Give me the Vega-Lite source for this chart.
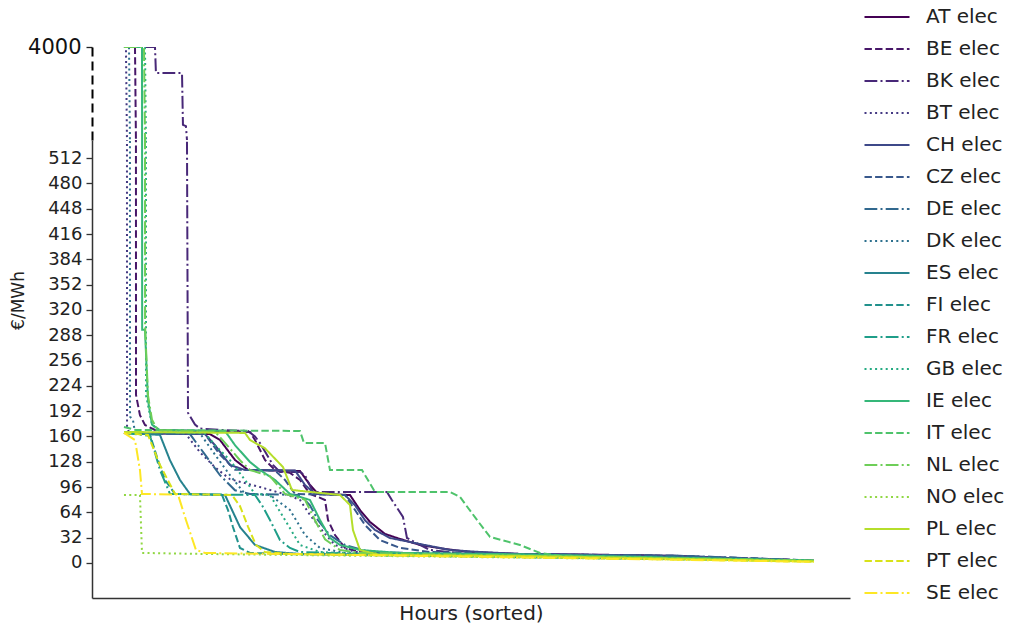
{
  "$schema": "https://vega.github.io/schema/vega-lite/v6.json",
  "padding": {"left": 9, "top": 7, "right": 5, "bottom": 5},
  "config": {
    "view": {"stroke": null},
    "font": "DejaVu Sans",
    "axis": {"labelFont": "DejaVu Sans", "titleFont": "DejaVu Sans", "grid": false},
    "legend": {"labelFont": "DejaVu Sans"}
  },
  "spacing": 0,
  "datasets": {
    "d": [
      {"series":"AT elec","hour":0,"price":164.5},{"series":"AT elec","hour":1092,"price":163},{"series":"AT elec","hour":1219,"price":155.6},{"series":"AT elec","hour":1410,"price":130.3},{"series":"AT elec","hour":1575,"price":117.6},{"series":"AT elec","hour":2235,"price":116.4},{"series":"AT elec","hour":2362,"price":98.7},{"series":"AT elec","hour":2464,"price":87.3},{"series":"AT elec","hour":2870,"price":86},{"series":"AT elec","hour":2997,"price":67},{"series":"AT elec","hour":3124,"price":51.9},{"series":"AT elec","hour":3315,"price":36.7},{"series":"AT elec","hour":3505,"price":30.4},{"series":"AT elec","hour":3759,"price":22.8},{"series":"AT elec","hour":4077,"price":17.7},{"series":"AT elec","hour":4394,"price":13.9},{"series":"AT elec","hour":5029,"price":11.4},{"series":"AT elec","hour":6299,"price":10.1},{"series":"AT elec","hour":7061,"price":8.9},{"series":"AT elec","hour":7823,"price":5.1},{"series":"AT elec","hour":8760,"price":2.5},

      {"series":"BE elec","hour":0,"price":4000},{"series":"BE elec","hour":140,"price":4000},{"series":"BE elec","hour":152,"price":540},{"series":"BE elec","hour":153,"price":212.5},{"series":"BE elec","hour":203,"price":187},{"series":"BE elec","hour":267,"price":174.6},{"series":"BE elec","hour":394,"price":168.2},{"series":"BE elec","hour":1600,"price":165.7},{"series":"BE elec","hour":1664,"price":155.6},{"series":"BE elec","hour":1791,"price":130.3},{"series":"BE elec","hour":1918,"price":117.6},{"series":"BE elec","hour":2108,"price":114},{"series":"BE elec","hour":2235,"price":105},{"series":"BE elec","hour":2362,"price":87.3},{"series":"BE elec","hour":2464,"price":83.5},{"series":"BE elec","hour":2553,"price":79.7},{"series":"BE elec","hour":2591,"price":54.4},{"series":"BE elec","hour":2680,"price":35.4},{"series":"BE elec","hour":2807,"price":19},{"series":"BE elec","hour":2997,"price":13.9},{"series":"BE elec","hour":3505,"price":11.4},{"series":"BE elec","hour":6299,"price":10.1},{"series":"BE elec","hour":7823,"price":6.3},{"series":"BE elec","hour":8760,"price":3},

      {"series":"BK elec","hour":0,"price":4000},{"series":"BK elec","hour":394,"price":4000},{"series":"BK elec","hour":406,"price":3030},{"series":"BK elec","hour":737,"price":3030},{"series":"BK elec","hour":749,"price":1100},{"series":"BK elec","hour":787,"price":1050},{"series":"BK elec","hour":800,"price":540},{"series":"BK elec","hour":813,"price":190},{"series":"BK elec","hour":902,"price":175},{"series":"BK elec","hour":965,"price":170},{"series":"BK elec","hour":1283,"price":168},{"series":"BK elec","hour":1575,"price":167},{"series":"BK elec","hour":1664,"price":160},{"series":"BK elec","hour":1727,"price":151.8},{"series":"BK elec","hour":1892,"price":124},{"series":"BK elec","hour":1981,"price":115.1},{"series":"BK elec","hour":2235,"price":115.1},{"series":"BK elec","hour":2299,"price":111},{"series":"BK elec","hour":2400,"price":89.8},{"series":"BK elec","hour":3340,"price":89.8},{"series":"BK elec","hour":3400,"price":80},{"series":"BK elec","hour":3543,"price":58.2},{"series":"BK elec","hour":3594,"price":31.6},{"series":"BK elec","hour":3886,"price":16.4},{"series":"BK elec","hour":4394,"price":11},{"series":"BK elec","hour":6045,"price":9.5},{"series":"BK elec","hour":7061,"price":8},{"series":"BK elec","hour":8760,"price":3},

      {"series":"BT elec","hour":0,"price":4000},{"series":"BT elec","hour":25,"price":4000},{"series":"BT elec","hour":38,"price":540},{"series":"BT elec","hour":39,"price":173},{"series":"BT elec","hour":64,"price":165},{"series":"BT elec","hour":775,"price":164.5},{"series":"BT elec","hour":965,"price":140},{"series":"BT elec","hour":1156,"price":121},{"series":"BT elec","hour":1346,"price":106},{"series":"BT elec","hour":1727,"price":96},{"series":"BT elec","hour":2108,"price":85},{"series":"BT elec","hour":2235,"price":79.7},{"series":"BT elec","hour":2362,"price":60.7},{"series":"BT elec","hour":2553,"price":36.7},{"series":"BT elec","hour":2680,"price":22.8},{"series":"BT elec","hour":2934,"price":14},{"series":"BT elec","hour":3505,"price":11.4},{"series":"BT elec","hour":6299,"price":10},{"series":"BT elec","hour":8760,"price":3},

      {"series":"CH elec","hour":0,"price":164.5},{"series":"CH elec","hour":1029,"price":163},{"series":"CH elec","hour":1156,"price":149},{"series":"CH elec","hour":1346,"price":124},{"series":"CH elec","hour":1537,"price":117.6},{"series":"CH elec","hour":2172,"price":117},{"series":"CH elec","hour":2299,"price":98.7},{"series":"CH elec","hour":2426,"price":87.3},{"series":"CH elec","hour":2807,"price":86},{"series":"CH elec","hour":2934,"price":73},{"series":"CH elec","hour":3061,"price":54},{"series":"CH elec","hour":3188,"price":41.7},{"series":"CH elec","hour":3378,"price":31.6},{"series":"CH elec","hour":3759,"price":24},{"series":"CH elec","hour":4140,"price":16.4},{"series":"CH elec","hour":4521,"price":13.9},{"series":"CH elec","hour":5029,"price":11.4},{"series":"CH elec","hour":6045,"price":10.1},{"series":"CH elec","hour":7061,"price":8.9},{"series":"CH elec","hour":7823,"price":5.1},{"series":"CH elec","hour":8760,"price":2.5},

      {"series":"CZ elec","hour":0,"price":164.5},{"series":"CZ elec","hour":1029,"price":163},{"series":"CZ elec","hour":1219,"price":137},{"series":"CZ elec","hour":1410,"price":118},{"series":"CZ elec","hour":1918,"price":117},{"series":"CZ elec","hour":2045,"price":105},{"series":"CZ elec","hour":2172,"price":87.3},{"series":"CZ elec","hour":2807,"price":86},{"series":"CZ elec","hour":2934,"price":67},{"series":"CZ elec","hour":3061,"price":48},{"series":"CZ elec","hour":3251,"price":29},{"series":"CZ elec","hour":3505,"price":19},{"series":"CZ elec","hour":3886,"price":13.9},{"series":"CZ elec","hour":5029,"price":11.4},{"series":"CZ elec","hour":7061,"price":9},{"series":"CZ elec","hour":8760,"price":3},

      {"series":"DE elec","hour":0,"price":164.5},{"series":"DE elec","hour":838,"price":163},{"series":"DE elec","hour":1029,"price":137},{"series":"DE elec","hour":1219,"price":111},{"series":"DE elec","hour":1410,"price":92},{"series":"DE elec","hour":1600,"price":87.3},{"series":"DE elec","hour":2235,"price":86},{"series":"DE elec","hour":2362,"price":73},{"series":"DE elec","hour":2464,"price":54},{"series":"DE elec","hour":2616,"price":35},{"series":"DE elec","hour":2807,"price":22.8},{"series":"DE elec","hour":3124,"price":13.9},{"series":"DE elec","hour":4140,"price":11.4},{"series":"DE elec","hour":7061,"price":9},{"series":"DE elec","hour":8760,"price":3},

      {"series":"DK elec","hour":0,"price":4000},{"series":"DK elec","hour":64,"price":4000},{"series":"DK elec","hour":76,"price":540},{"series":"DK elec","hour":77,"price":185},{"series":"DK elec","hour":114,"price":181},{"series":"DK elec","hour":140,"price":165},{"series":"DK elec","hour":965,"price":164},{"series":"DK elec","hour":1156,"price":137},{"series":"DK elec","hour":1346,"price":111},{"series":"DK elec","hour":1537,"price":87.3},{"series":"DK elec","hour":1854,"price":86},{"series":"DK elec","hour":2108,"price":67},{"series":"DK elec","hour":2299,"price":35.4},{"series":"DK elec","hour":2489,"price":19},{"series":"DK elec","hour":2807,"price":12.7},{"series":"DK elec","hour":4140,"price":11},{"series":"DK elec","hour":8760,"price":3},

      {"series":"ES elec","hour":0,"price":164.5},{"series":"ES elec","hour":457,"price":162},{"series":"ES elec","hour":584,"price":130},{"series":"ES elec","hour":711,"price":105},{"series":"ES elec","hour":838,"price":87.3},{"series":"ES elec","hour":1283,"price":86},{"series":"ES elec","hour":1372,"price":67},{"series":"ES elec","hour":1473,"price":45.5},{"series":"ES elec","hour":1664,"price":22.8},{"series":"ES elec","hour":1918,"price":13.9},{"series":"ES elec","hour":2235,"price":11.4},{"series":"ES elec","hour":5029,"price":10},{"series":"ES elec","hour":8760,"price":2.5},

      {"series":"FI elec","hour":0,"price":164.5},{"series":"FI elec","hour":330,"price":162},{"series":"FI elec","hour":432,"price":130},{"series":"FI elec","hour":521,"price":105},{"series":"FI elec","hour":648,"price":87.3},{"series":"FI elec","hour":1245,"price":86},{"series":"FI elec","hour":1321,"price":67},{"series":"FI elec","hour":1384,"price":45.5},{"series":"FI elec","hour":1473,"price":19},{"series":"FI elec","hour":1600,"price":12.7},{"series":"FI elec","hour":2235,"price":11},{"series":"FI elec","hour":8760,"price":2.5},

      {"series":"FR elec","hour":0,"price":164.5},{"series":"FR elec","hour":330,"price":161},{"series":"FR elec","hour":457,"price":117.6},{"series":"FR elec","hour":584,"price":87.3},{"series":"FR elec","hour":1664,"price":86},{"series":"FR elec","hour":1753,"price":73},{"series":"FR elec","hour":1854,"price":54.4},{"series":"FR elec","hour":1981,"price":29},{"series":"FR elec","hour":2108,"price":19},{"series":"FR elec","hour":2235,"price":13.9},{"series":"FR elec","hour":3000,"price":11.4},{"series":"FR elec","hour":8760,"price":3},

      {"series":"GB elec","hour":0,"price":4000},{"series":"GB elec","hour":267,"price":4000},{"series":"GB elec","hour":279,"price":540},{"series":"GB elec","hour":280,"price":212},{"series":"GB elec","hour":356,"price":175},{"series":"GB elec","hour":457,"price":166},{"series":"GB elec","hour":1029,"price":164},{"series":"GB elec","hour":1156,"price":149},{"series":"GB elec","hour":1346,"price":130},{"series":"GB elec","hour":1537,"price":105},{"series":"GB elec","hour":1664,"price":87.3},{"series":"GB elec","hour":1854,"price":86},{"series":"GB elec","hour":2045,"price":54.4},{"series":"GB elec","hour":2235,"price":22.8},{"series":"GB elec","hour":2489,"price":13.9},{"series":"GB elec","hour":3000,"price":11.4},{"series":"GB elec","hour":8760,"price":3},

      {"series":"IE elec","hour":0,"price":4000},{"series":"IE elec","hour":229,"price":4000},{"series":"IE elec","hour":230,"price":540},{"series":"IE elec","hour":231,"price":295},{"series":"IE elec","hour":267,"price":295},{"series":"IE elec","hour":305,"price":206},{"series":"IE elec","hour":356,"price":175},{"series":"IE elec","hour":457,"price":168},{"series":"IE elec","hour":1283,"price":167},{"series":"IE elec","hour":1410,"price":149},{"series":"IE elec","hour":1600,"price":127.8},{"series":"IE elec","hour":1727,"price":117.6},{"series":"IE elec","hour":1918,"price":105},{"series":"IE elec","hour":2108,"price":87.3},{"series":"IE elec","hour":2362,"price":79.7},{"series":"IE elec","hour":2489,"price":54.4},{"series":"IE elec","hour":2616,"price":31.6},{"series":"IE elec","hour":2743,"price":22.8},{"series":"IE elec","hour":2997,"price":16.4},{"series":"IE elec","hour":3505,"price":12.7},{"series":"IE elec","hour":5029,"price":11},{"series":"IE elec","hour":8760,"price":3},

      {"series":"IT elec","hour":0,"price":172},{"series":"IT elec","hour":150,"price":168.2},{"series":"IT elec","hour":2235,"price":167},{"series":"IT elec","hour":2286,"price":151.8},{"series":"IT elec","hour":2553,"price":151.8},{"series":"IT elec","hour":2616,"price":117.6},{"series":"IT elec","hour":3023,"price":117.6},{"series":"IT elec","hour":3188,"price":89.8},{"series":"IT elec","hour":4140,"price":89.8},{"series":"IT elec","hour":4267,"price":83.5},{"series":"IT elec","hour":4483,"price":54.4},{"series":"IT elec","hour":4648,"price":32.9},{"series":"IT elec","hour":5029,"price":22.8},{"series":"IT elec","hour":5283,"price":12.7},{"series":"IT elec","hour":5537,"price":8.9},{"series":"IT elec","hour":8760,"price":2.5},

      {"series":"NL elec","hour":0,"price":4000},{"series":"NL elec","hour":254,"price":4000},{"series":"NL elec","hour":267,"price":540},{"series":"NL elec","hour":268,"price":300},{"series":"NL elec","hour":305,"price":212},{"series":"NL elec","hour":356,"price":181},{"series":"NL elec","hour":432,"price":168},{"series":"NL elec","hour":1156,"price":166},{"series":"NL elec","hour":1283,"price":152},{"series":"NL elec","hour":1473,"price":130},{"series":"NL elec","hour":1600,"price":117.6},{"series":"NL elec","hour":1854,"price":110},{"series":"NL elec","hour":2045,"price":87.3},{"series":"NL elec","hour":2299,"price":80},{"series":"NL elec","hour":2426,"price":54},{"series":"NL elec","hour":2553,"price":30},{"series":"NL elec","hour":2743,"price":16.4},{"series":"NL elec","hour":3000,"price":12.7},{"series":"NL elec","hour":8760,"price":3},

      {"series":"NO elec","hour":0,"price":86},{"series":"NO elec","hour":203,"price":86},{"series":"NO elec","hour":229,"price":12.7},{"series":"NO elec","hour":1000,"price":11.4},{"series":"NO elec","hour":4000,"price":8},{"series":"NO elec","hour":8760,"price":2.5},

      {"series":"PL elec","hour":0,"price":165.7},{"series":"PL elec","hour":1537,"price":164.5},{"series":"PL elec","hour":1600,"price":155.6},{"series":"PL elec","hour":1791,"price":145},{"series":"PL elec","hour":2019,"price":121.4},{"series":"PL elec","hour":2134,"price":92.3},{"series":"PL elec","hour":2743,"price":86},{"series":"PL elec","hour":2870,"price":73.4},{"series":"PL elec","hour":2908,"price":41.7},{"series":"PL elec","hour":2997,"price":16.4},{"series":"PL elec","hour":3251,"price":10.1},{"series":"PL elec","hour":5029,"price":9},{"series":"PL elec","hour":8760,"price":2},

      {"series":"PT elec","hour":0,"price":164.5},{"series":"PT elec","hour":305,"price":162},{"series":"PT elec","hour":457,"price":124},{"series":"PT elec","hour":648,"price":87.3},{"series":"PT elec","hour":1372,"price":86},{"series":"PT elec","hour":1473,"price":72},{"series":"PT elec","hour":1575,"price":46},{"series":"PT elec","hour":1676,"price":22.8},{"series":"PT elec","hour":1791,"price":13.9},{"series":"PT elec","hour":2108,"price":11.4},{"series":"PT elec","hour":5000,"price":8},{"series":"PT elec","hour":8760,"price":1.5},

      {"series":"SE elec","hour":0,"price":164.5},{"series":"SE elec","hour":140,"price":155.6},{"series":"SE elec","hour":203,"price":117.6},{"series":"SE elec","hour":229,"price":87.3},{"series":"SE elec","hour":686,"price":86.5},{"series":"SE elec","hour":787,"price":54.4},{"series":"SE elec","hour":914,"price":16.4},{"series":"SE elec","hour":1029,"price":12.7},{"series":"SE elec","hour":3000,"price":10},{"series":"SE elec","hour":8760,"price":1.5}
    ]
  },
  "data": {"name": "d"},
  "vconcat": [
    {
      "width": 758,
      "height": 93,
      "mark": {"type": "line", "clip": true, "strokeWidth": 2},
      "encoding": {
        "x": {"field": "hour", "type": "quantitative", "scale": {"domain": [-406, 9220], "nice": false, "zero": false}, "axis": null},
        "y": {"field": "price", "type": "quantitative", "scale": {"domain": [535, 4000], "nice": false, "zero": false},
              "axis": {"values": [4000], "format": "d", "title": null, "domainDash": [9, 5], "domainColor": "#000", "domainWidth": 2, "tickColor": "#222", "tickSize": 6, "tickWidth": 1.3, "labelFontSize": 21, "labelColor": "#111", "labelPadding": 5}},
        "color": {"field": "series", "type": "nominal",
          "scale": {"domain": ["AT elec","BE elec","BK elec","BT elec","CH elec","CZ elec","DE elec","DK elec","ES elec","FI elec","FR elec","GB elec","IE elec","IT elec","NL elec","NO elec","PL elec","PT elec","SE elec"],
                    "range": ["#440154","#481769","#482878","#443983","#3e4989","#38588c","#31688e","#2d708e","#26828e","#21918c","#1f9e89","#25ab82","#35b779","#4ec36b","#6ece58","#90d743","#b5de2b","#d8e219","#fde725"]},
          "legend": {"title": null, "orient": "none", "legendX": 785, "legendY": -40, "symbolType": "M-4.5,0H4.5", "symbolSize": 100, "symbolStrokeWidth": 2, "labelFontSize": 20, "labelOffset": 29, "rowPadding": 12, "labelColor": "#222"}},
        "strokeDash": {"field": "series", "type": "nominal",
          "scale": {"domain": ["AT elec","BE elec","BK elec","BT elec","CH elec","CZ elec","DE elec","DK elec","ES elec","FI elec","FR elec","GB elec","IE elec","IT elec","NL elec","NO elec","PL elec","PT elec","SE elec"],
                    "range": [[1,0],[7.4,3.2],[12.8,3.2,2,3.2],[2,3.3],[1,0],[7.4,3.2],[12.8,3.2,2,3.2],[2,3.3],[1,0],[7.4,3.2],[12.8,3.2,2,3.2],[2,3.3],[1,0],[7.4,3.2],[12.8,3.2,2,3.2],[2,3.3],[1,0],[7.4,3.2],[12.8,3.2,2,3.2]]},
          "legend": {"title": null, "orient": "none", "legendX": 785, "legendY": -40, "symbolType": "M-4.5,0H4.5", "symbolSize": 100, "symbolStrokeWidth": 2, "labelFontSize": 20, "labelOffset": 29, "rowPadding": 12, "labelColor": "#222"}}
      }
    },
    {
      "width": 758,
      "height": 458,
      "mark": {"type": "line", "clip": true, "strokeWidth": 2},
      "encoding": {
        "x": {"field": "hour", "type": "quantitative", "scale": {"domain": [-406, 9220], "nice": false, "zero": false},
              "axis": {"title": "Hours (sorted)", "labels": false, "ticks": false, "domainColor": "#333", "domainWidth": 1.5, "titleFontSize": 20, "titleFontWeight": "normal", "titleColor": "#222", "titlePadding": 5}},
        "y": {"field": "price", "type": "quantitative", "scale": {"domain": [-44.3, 535], "nice": false, "zero": false},
              "axis": {"values": [0,32,64,96,128,160,192,224,256,288,320,352,384,416,448,480,512], "title": "€/MWh", "titleFontSize": 17, "titleFontWeight": "normal", "titleColor": "#222", "titleX": -65, "titleY": 160, "domainColor": "#333", "domainWidth": 1.5, "tickColor": "#333", "tickSize": 6, "tickWidth": 1.3, "labelFontSize": 18, "labelColor": "#222", "labelPadding": 4}},
        "color": {"field": "series", "type": "nominal",
          "scale": {"domain": ["AT elec","BE elec","BK elec","BT elec","CH elec","CZ elec","DE elec","DK elec","ES elec","FI elec","FR elec","GB elec","IE elec","IT elec","NL elec","NO elec","PL elec","PT elec","SE elec"],
                    "range": ["#440154","#481769","#482878","#443983","#3e4989","#38588c","#31688e","#2d708e","#26828e","#21918c","#1f9e89","#25ab82","#35b779","#4ec36b","#6ece58","#90d743","#b5de2b","#d8e219","#fde725"]},
          "legend": {"title": null, "orient": "none", "legendX": 785, "legendY": -40, "symbolType": "M-4.5,0H4.5", "symbolSize": 100, "symbolStrokeWidth": 2, "labelFontSize": 20, "labelOffset": 29, "rowPadding": 12, "labelColor": "#222"}},
        "strokeDash": {"field": "series", "type": "nominal",
          "scale": {"domain": ["AT elec","BE elec","BK elec","BT elec","CH elec","CZ elec","DE elec","DK elec","ES elec","FI elec","FR elec","GB elec","IE elec","IT elec","NL elec","NO elec","PL elec","PT elec","SE elec"],
                    "range": [[1,0],[7.4,3.2],[12.8,3.2,2,3.2],[2,3.3],[1,0],[7.4,3.2],[12.8,3.2,2,3.2],[2,3.3],[1,0],[7.4,3.2],[12.8,3.2,2,3.2],[2,3.3],[1,0],[7.4,3.2],[12.8,3.2,2,3.2],[2,3.3],[1,0],[7.4,3.2],[12.8,3.2,2,3.2]]},
          "legend": {"title": null, "orient": "none", "legendX": 785, "legendY": -40, "symbolType": "M-4.5,0H4.5", "symbolSize": 100, "symbolStrokeWidth": 2, "labelFontSize": 20, "labelOffset": 29, "rowPadding": 12, "labelColor": "#222"}}
      }
    }
  ],
  "resolve": {"scale": {"x": "independent", "y": "independent", "color": "shared", "strokeDash": "shared"}}
}
